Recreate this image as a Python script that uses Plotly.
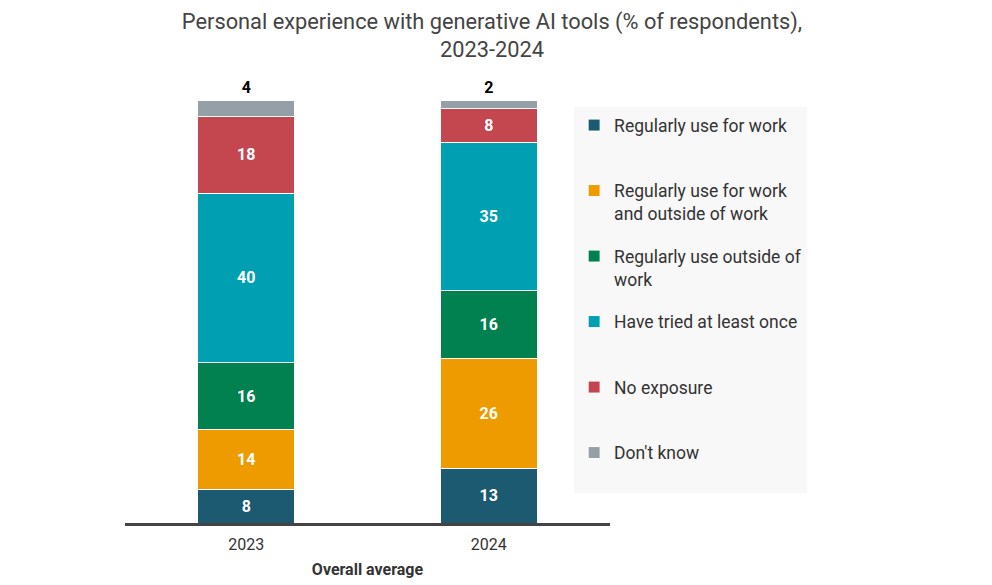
import plotly.graph_objects as go

# values (% of respondents)
years = ["2023", "2024"]
series_names = [
    "Regularly use for work",
    "Regularly use for work<br>and outside of work",
    "Regularly use outside of<br>work",
    "Have tried at least once",
    "No exposure",
    "Don't know",
]
work_only = [8, 13]
work_and_outside = [14, 26]
outside_only = [16, 16]
tried_once = [40, 35]
no_exposure = [18, 8]
dont_know = [4, 2]

series_values = [work_only, work_and_outside, outside_only, tried_once, no_exposure, dont_know]
series_colors = ["#1b5a70", "#ee9b00", "#00814f", "#00a0b2", "#c4464e", "#949fa6"]

FONT = "Roboto, Noto Sans, sans-serif"

fig = go.Figure()
for name, vals, color in zip(series_names, series_values, series_colors):
    is_top = name == "Don't know"
    # pad single-line entries so every legend item has the same height
    legend_name = name if "<br>" in name else name + "<br> "
    fig.add_trace(
        go.Bar(
            x=years,
            y=vals,
            name=legend_name,
            marker={"color": color, "line": {"color": "white", "width": 1}},
            text=vals,
            textposition="outside" if is_top else "inside",
            insidetextanchor="middle",
            textangle=0,
            textfont={
                "color": "black" if is_top else "white",
                "size": 16,
                "family": FONT,
                "weight": 700,
            },
            cliponaxis=False,
            legendgroup=name,
        )
    )

# the page body adds an 8px offset, so the figure is sized/margined to compensate
fig.update_layout(
    barmode="stack",
    bargap=0.6,
    width=984,
    height=577,
    paper_bgcolor="white",
    plot_bgcolor="white",
    font={"family": FONT, "color": "#333333"},
    title={
        "text": "Personal experience with generative AI tools (% of respondents),<br>2023-2024",
        "x": 0.5 - 8 / 984,
        "xanchor": "center",
        "y": 0.964,
        "yanchor": "top",
        "font": {"size": 21.8, "color": "#444444"},
    },
    margin={"t": 92, "b": 62, "l": 117, "r": 382, "autoexpand": False},
    uniformtext={"mode": "show", "minsize": 10},
    legend={
        "x": 0.926,
        "xanchor": "left",
        "y": 0.983,
        "yanchor": "top",
        "bgcolor": "#f8f8f8",
        "traceorder": "grouped",
        "valign": "top",
        "tracegroupgap": 17,
        "font": {"size": 17.5, "color": "#333333"},
        "itemclick": False,
    },
    showlegend=True,
)
fig.update_xaxes(
    automargin=False,
    showline=True,
    linecolor="#444444",
    linewidth=3,
    ticks="",
    ticklabelstandoff=5,
    tickfont={"size": 16, "color": "#333333"},
    title={
        "text": "<b>Overall average</b>",
        "font": {"size": 16, "color": "#333333"},
        "standoff": 11,
    },
)
fig.update_yaxes(visible=False, range=[0, 100])

fig.write_html("out.html")
